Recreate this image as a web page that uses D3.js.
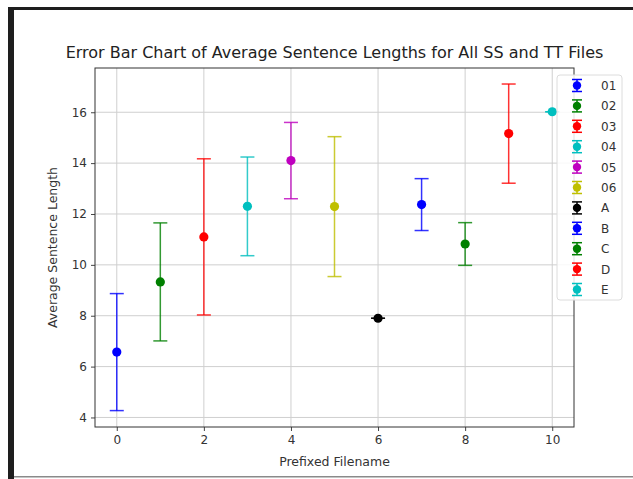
<!DOCTYPE html>
<html>
<head>
<meta charset="utf-8">
<script src="https://cdn.jsdelivr.net/npm/d3@7/dist/d3.min.js"></script>
<style>
  body { margin: 0; background: #fff; }
  svg { display: block; font-family: "DejaVu Sans", sans-serif; }
</style>
</head>
<body>
<svg id="chart" width="633" height="479"></svg>
<script>
// values
var labels = ["01", "02", "03", "04", "05", "06", "A", "B", "C", "D", "E"];
var means = [6.57, 9.33, 11.1, 12.3, 14.1, 12.29, 7.9, 12.37, 10.82, 15.16, 16.02];
var errors = [2.3, 2.32, 3.07, 1.94, 1.5, 2.75, 0, 1.02, 0.84, 1.95, 0];
var colorCodes = ["b", "g", "r", "c", "m", "y", "k", "b", "g", "r", "c"];
var xTicks = [0, 2, 4, 6, 8, 10];
var yTicks = [4, 6, 8, 10, 12, 14, 16];

// matplotlib single letter colours
var mplColor = { b: "#0000ff", g: "#008000", r: "#ff0000", c: "#00bfbf", m: "#bf00bf", y: "#bfbf00", k: "#000000" };

var svg = d3.select("#chart");

// screenshot frame
svg.append("rect").attr("x", 8).attr("y", 7).attr("width", 6).attr("height", 472).attr("fill", "#1e1e1e");
svg.append("rect").attr("x", 8).attr("y", 7).attr("width", 625).attr("height", 3).attr("fill", "#1e1e1e");
svg.append("rect").attr("x", 14).attr("y", 476).attr("width", 619).attr("height", 1.5).attr("fill", "#8a8a8a");

var pLeft = 95, pRight = 574, pTop = 68, pBottom = 427;

var x = d3.scaleLinear().domain([-0.5, 10.5]).range([pLeft, pRight]);
var y = d3.scaleLinear().domain([3.625, 17.74]).range([pBottom, pTop]);

// grid
var grid = svg.append("g").attr("stroke", "#cfcfcf").attr("stroke-width", 1);
grid.selectAll("line.gx").data(xTicks).join("line").attr("class", "gx")
  .attr("x1", function(d) { return x(d); }).attr("x2", function(d) { return x(d); })
  .attr("y1", pTop).attr("y2", pBottom);
grid.selectAll("line.gy").data(yTicks).join("line").attr("class", "gy")
  .attr("y1", function(d) { return y(d); }).attr("y2", function(d) { return y(d); })
  .attr("x1", pLeft).attr("x2", pRight);

// axes
var xAxis = svg.append("g").attr("transform", "translate(0," + pBottom + ")")
  .call(d3.axisBottom(x).tickValues(xTicks).tickSize(4).tickPadding(4).tickSizeOuter(0));
var yAxis = svg.append("g").attr("transform", "translate(" + pLeft + ",0)")
  .call(d3.axisLeft(y).tickValues(yTicks).tickSize(4).tickPadding(4).tickSizeOuter(0));
[xAxis, yAxis].forEach(function(a) {
  a.select(".domain").remove();
  a.selectAll("text").attr("font-size", 12).attr("fill", "#333").attr("font-family", "DejaVu Sans");
  a.selectAll("line").attr("stroke", "#444");
});

svg.append("rect").attr("x", pLeft).attr("y", pTop).attr("width", pRight - pLeft).attr("height", pBottom - pTop)
  .attr("fill", "none").attr("stroke", "#333").attr("stroke-width", 1);

// error bars
var pts = svg.append("g").selectAll("g").data(means).join("g");
pts.each(function(m, i) {
  var g = d3.select(this);
  var c = mplColor[colorCodes[i]];
  var cx = x(i);
  var lo = y(m - errors[i]), hi = y(m + errors[i]);
  g.append("line").attr("x1", cx).attr("x2", cx).attr("y1", lo).attr("y2", hi)
    .attr("stroke", c).attr("stroke-width", 1.5).attr("opacity", 0.8);
  [lo, hi].forEach(function(yy) {
    g.append("line").attr("x1", cx - 7).attr("x2", cx + 7).attr("y1", yy).attr("y2", yy)
      .attr("stroke", c).attr("stroke-width", 1.5).attr("opacity", 0.8);
  });
  g.append("circle").attr("cx", cx).attr("cy", y(m)).attr("r", 4.6).attr("fill", c);
});

// legend
var lg = svg.append("g").attr("transform", "translate(557,75)");
lg.append("rect").attr("width", 65).attr("height", 225).attr("rx", 3)
  .attr("fill", "#fff").attr("fill-opacity", 0.85).attr("stroke", "#dcdcdc");
var item = lg.selectAll("g.item").data(labels).join("g").attr("class", "item")
  .attr("transform", function(d, i) { return "translate(0," + (10.5 + i * 20.4) + ")"; });
item.each(function(d, i) {
  var g = d3.select(this);
  var c = mplColor[colorCodes[i]];
  g.append("line").attr("x1", 20).attr("x2", 20).attr("y1", -6).attr("y2", 6).attr("stroke", c).attr("stroke-width", 1.5);
  [-6, 6].forEach(function(yy) {
    g.append("line").attr("x1", 15).attr("x2", 25).attr("y1", yy).attr("y2", yy).attr("stroke", c).attr("stroke-width", 1.5);
  });
  g.append("circle").attr("cx", 20).attr("cy", 0).attr("r", 4.2).attr("fill", c);
});
item.append("text").attr("x", 44).attr("y", 4.5).attr("font-size", 12).attr("fill", "#333").text(function(d) { return d; });

// labels
svg.append("text").attr("x", (pLeft + pRight) / 2).attr("y", 58).attr("text-anchor", "middle")
  .attr("font-size", 16).attr("fill", "#222")
  .text("Error Bar Chart of Average Sentence Lengths for All SS and TT Files");
svg.append("text").attr("x", (pLeft + pRight) / 2).attr("y", 466).attr("text-anchor", "middle")
  .attr("font-size", 12.5).attr("fill", "#333").text("Prefixed Filename");
svg.append("text").attr("transform", "translate(57," + ((pTop + pBottom) / 2) + ") rotate(-90)")
  .attr("text-anchor", "middle").attr("font-size", 12.5).attr("fill", "#333").text("Average Sentence Length");
</script>
</body>
</html>
